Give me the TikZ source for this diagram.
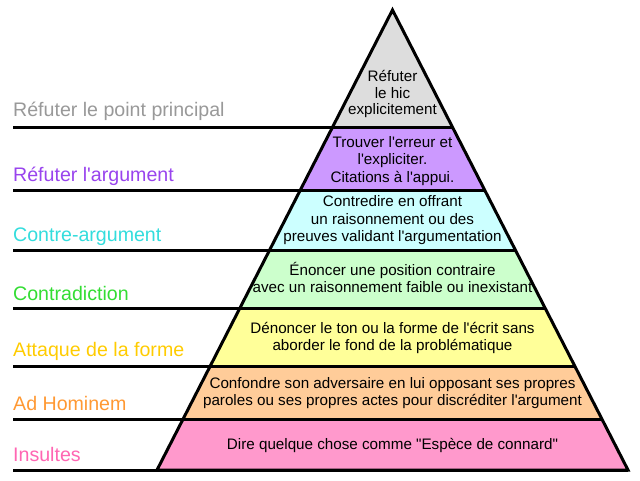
\documentclass[tikz,border=0pt]{standalone}
\usepackage{fontspec}
\setmainfont{Liberation Sans}[Ligatures=TeXOff]
\definecolor{f0}{HTML}{DDDDDD}
\definecolor{f1}{HTML}{CC99FF}
\definecolor{f2}{HTML}{CCFFFF}
\definecolor{f3}{HTML}{CCFFCC}
\definecolor{f4}{HTML}{FFFF99}
\definecolor{f5}{HTML}{FFCC99}
\definecolor{f6}{HTML}{FF99CC}
\definecolor{c0}{HTML}{999999}
\definecolor{c1}{HTML}{9944EE}
\definecolor{c2}{HTML}{33DDDD}
\definecolor{c3}{HTML}{33DD33}
\definecolor{c4}{HTML}{FFCC00}
\definecolor{c5}{HTML}{FF9933}
\definecolor{c6}{HTML}{FF66B3}
\begin{document}
\begin{tikzpicture}[x=1pt,y=-1pt,
  sepline/.style={line width=3pt},
  outline/.style={line width=3pt, line join=miter},
  lbl/.style={anchor=base west, inner sep=0pt, font=\fontsize{19.6}{23}\selectfont},
  txt/.style={anchor=base, inner sep=0pt, text=black, font=\fontsize{15.2}{18}\selectfont}]
\useasboundingbox (0,0) rectangle (640,480);
\fill[white] (0,0) rectangle (640,480);
% pyramid corners
\coordinate (A) at (392.5,10);
\coordinate (L1) at (332.6,127);  \coordinate (R1) at (452.4,127);
\coordinate (L2) at (300.35,190); \coordinate (R2) at (484.65,190);
\coordinate (L3) at (269.63,250); \coordinate (R3) at (515.37,250);
\coordinate (L4) at (239.94,308); \coordinate (R4) at (545.06,308);
\coordinate (L5) at (210.24,366); \coordinate (R5) at (574.76,366);
\coordinate (L6) at (183.11,419); \coordinate (R6) at (601.89,419);
\coordinate (L7) at (157,470);    \coordinate (R7) at (628,470);
% left ends of the lines
\coordinate (S1) at (13,127);
\coordinate (S2) at (13,190);
\coordinate (S3) at (13,250);
\coordinate (S4) at (13,308);
\coordinate (S5) at (13,366);
\coordinate (S6) at (13,419);
\coordinate (S7) at (13,470);
% fills
\fill[f0] (A) -- (R1) -- (L1) -- cycle;
\fill[f1] (L1) -- (R1) -- (R2) -- (L2) -- cycle;
\fill[f2] (L2) -- (R2) -- (R3) -- (L3) -- cycle;
\fill[f3] (L3) -- (R3) -- (R4) -- (L4) -- cycle;
\fill[f4] (L4) -- (R4) -- (R5) -- (L5) -- cycle;
\fill[f5] (L5) -- (R5) -- (R6) -- (L6) -- cycle;
\fill[f6] (L6) -- (R6) -- (R7) -- (L7) -- cycle;
% separating lines
\draw[sepline] (S1) -- (R1);
\draw[sepline] (S2) -- (R2);
\draw[sepline] (S3) -- (R3);
\draw[sepline] (S4) -- (R4);
\draw[sepline] (S5) -- (R5);
\draw[sepline] (S6) -- (R6);
\draw[sepline] (S7) -- (R7);
\draw[outline] (L7) -- (A) -- (R7) -- cycle;
% left labels
\node[lbl, text=c0] (n0) at (13,116.7) {Réfuter le point principal};
\node[lbl, text=c1] (n1) at (13,181.7) {Réfuter l'argument};
\node[lbl, text=c2] (n2) at (13,241.5) {Contre-argument};
\node[lbl, text=c3] (n3) at (13,300) {Contradiction};
\node[lbl, text=c4] (n4) at (13,356.7) {Attaque de la forme};
\node[lbl, text=c5] (n5) at (13,410) {Ad Hominem};
\node[lbl, text=c6] (n6) at (13,461) {Insultes};
% texts inside the pyramid
\node[txt] (t0a) at (392.5,81.7) {Réfuter};
\node[txt] (t0b) at (392.5,98.3) {le hic};
\node[txt] (t0c) at (392.5,114.5) {explicitement};
\node[txt] (t1a) at (392.5,147) {Trouver l'erreur et};
\node[txt] (t1b) at (392.5,164.7) {l'expliciter.};
\node[txt] (t1c) at (392.5,182) {Citations à l'appui.};
\node[txt] (t2a) at (392.5,206.7) {Contredire en offrant};
\node[txt] (t2b) at (392.5,224) {un raisonnement ou des};
\node[txt] (t2c) at (392.5,241.3) {preuves validant l'argumentation};
\node[txt] (t3a) at (392.5,275.7) {Énoncer une position contraire};
\node[txt] (t3b) at (392.5,292.3) {avec un raisonnement faible ou inexistant};
\node[txt] (t4a) at (392.5,333.3) {Dénoncer le ton ou la forme de l'écrit sans};
\node[txt] (t4b) at (392.5,350) {aborder le fond de la problématique};
\node[txt] (t5a) at (392.5,388.3) {Confondre son adversaire en lui opposant ses propres};
\node[txt] (t5b) at (392.5,405.5) {paroles ou ses propres actes pour discréditer l'argument};
\node[txt] (t6a) at (392.5,449) {Dire quelque chose comme "Espèce de connard"};
\end{tikzpicture}
\end{document}
